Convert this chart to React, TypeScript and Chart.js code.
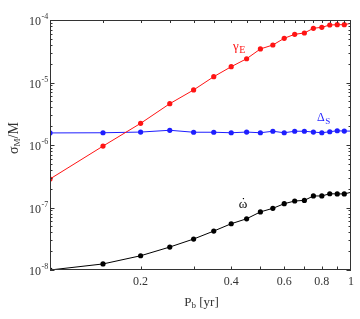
import React, { useEffect, useRef } from "react";
import { Chart, registerables } from "chart.js";
Chart.register(...registerables);

// orbital period P_b [yr]
const periods = [0.1, 0.15, 0.2, 0.25, 0.3, 0.35, 0.4, 0.45, 0.5, 0.55, 0.6, 0.65, 0.7, 0.75, 0.8, 0.85, 0.9, 0.95, 1.0];
// sigma_M / M for each parameter
const gammaE = [2.86e-7, 9.6e-7, 2.22e-6, 4.58e-6, 7.6e-6, 1.24e-5, 1.79e-5, 2.4e-5, 3.44e-5, 3.98e-5, 5.1e-5, 5.9e-5, 6.2e-5, 7.37e-5, 7.64e-5, 8.32e-5, 8.41e-5, 8.41e-5, 8.85e-5];
const deltaS = [1.56e-6, 1.57e-6, 1.61e-6, 1.72e-6, 1.6e-6, 1.6e-6, 1.57e-6, 1.61e-6, 1.57e-6, 1.66e-6, 1.57e-6, 1.66e-6, 1.66e-6, 1.61e-6, 1.57e-6, 1.63e-6, 1.69e-6, 1.67e-6, 1.67e-6];
const omegaDot = [1.0e-8, 1.25e-8, 1.69e-8, 2.33e-8, 3.13e-8, 4.2e-8, 5.5e-8, 6.6e-8, 8.5e-8, 9.7e-8, 1.15e-7, 1.27e-7, 1.3e-7, 1.53e-7, 1.53e-7, 1.66e-7, 1.65e-7, 1.65e-7, 1.75e-7];

// axis ticks
const xTickLabels = [0.2, 0.4, 0.6, 0.8, 1];
const xBottomTicks = [0.2, 0.3, 0.4, 0.5, 0.6, 0.7, 0.8, 0.9];
const xTopTicks = [0.15, 0.2, 0.25, 0.3, 0.35, 0.4, 0.45, 0.5, 0.55, 0.6, 0.65, 0.7, 0.75, 0.8, 0.85, 0.9, 0.95];
const yTickExponents = [-8, -7, -6, -5, -4];
const yMinorMultipliers = [2, 3, 4, 5, 6, 7, 8, 9];

const RED = "rgb(255,20,20)";
const BLUE = "rgb(30,30,255)";
const BLACK = "#000";
const AXIS = "#333";
const SERIF = "'Liberation Serif', 'DejaVu Serif', serif";

export default function App() {
  const ref = useRef<HTMLCanvasElement>(null);

  useEffect(() => {
    if (!ref.current) return;
    const pts = (ys: number[]) => periods.map((x, i) => ({ x, y: ys[i] }));
    const radius = (ctx: any) => (ctx.dataIndex === periods.length - 1 ? 0 : 2.6);

    const decor = {
      id: "decor",
      afterDraw(chart: any) {
        const { ctx, chartArea } = chart;
        const xs = chart.scales.x;
        const ys = chart.scales.y;
        const L = chartArea.left, R = chartArea.right, T = chartArea.top, B = chartArea.bottom;
        ctx.save();
        ctx.strokeStyle = AXIS;
        ctx.lineWidth = 1;
        // frame
        ctx.strokeRect(L + 0.5, T + 0.5, R - L - 1, B - T - 1);
        ctx.beginPath();
        // y ticks
        yTickExponents.forEach((e) => {
          const y = Math.round(ys.getPixelForValue(Math.pow(10, e))) + 0.5;
          ctx.moveTo(L, y); ctx.lineTo(L + 4.5, y);
          ctx.moveTo(R, y); ctx.lineTo(R - 4.5, y);
          if (e < -4) {
            yMinorMultipliers.forEach((k) => {
              const ym = Math.round(ys.getPixelForValue(k * Math.pow(10, e))) + 0.5;
              ctx.moveTo(L, ym); ctx.lineTo(L + 2.5, ym);
              ctx.moveTo(R, ym); ctx.lineTo(R - 2.5, ym);
            });
          }
        });
        xBottomTicks.forEach((v) => {
          const x = Math.round(xs.getPixelForValue(v)) + 0.5;
          ctx.moveTo(x, B); ctx.lineTo(x, B - 3.5);
        });
        xTopTicks.forEach((v) => {
          const x = Math.round(xs.getPixelForValue(v)) + 0.5;
          ctx.moveTo(x, T); ctx.lineTo(x, T + 3);
        });
        ctx.stroke();

        // x tick labels
        ctx.fillStyle = AXIS;
        ctx.font = `12px ${SERIF}`;
        ctx.textAlign = "center";
        ctx.textBaseline = "alphabetic";
        xTickLabels.forEach((v) => {
          ctx.fillText(String(v), xs.getPixelForValue(v), B + 15);
        });

        // y tick labels 10^e
        yTickExponents.forEach((e) => {
          const y = ys.getPixelForValue(Math.pow(10, e));
          ctx.font = `12px ${SERIF}`;
          ctx.textAlign = "right";
          ctx.fillText("10", 41, y + 5);
          ctx.font = `8px ${SERIF}`;
          ctx.textAlign = "left";
          ctx.fillText(String(e), 41.5, y - 1);
        });

        // x title P_b [yr]
        ctx.textAlign = "left";
        ctx.font = `13px ${SERIF}`;
        const wP = ctx.measureText("P").width;
        const wRest = ctx.measureText(" [yr]").width;
        ctx.font = `9px ${SERIF}`;
        const wb = ctx.measureText("b").width;
        let x0 = (L + R) / 2 + 1 - (wP + wb + wRest) / 2;
        ctx.font = `13px ${SERIF}`;
        ctx.fillText("P", x0, 306);
        ctx.font = `9px ${SERIF}`;
        ctx.fillText("b", x0 + wP, 308);
        ctx.font = `13px ${SERIF}`;
        ctx.fillText(" [yr]", x0 + wP + wb, 306);

        // y title sigma_M / M
        ctx.save();
        ctx.translate(18, 138);
        ctx.rotate(-Math.PI / 2);
        ctx.font = `14px ${SERIF}`;
        const ws = ctx.measureText("σ").width;
        const wSl = ctx.measureText("/M").width;
        ctx.font = `9px ${SERIF}`;
        const wM = ctx.measureText("M").width;
        let s0 = -(ws + wM + wSl) / 2;
        ctx.font = `14px ${SERIF}`;
        ctx.fillText("σ", s0, 0);
        ctx.font = `9px ${SERIF}`;
        ctx.fillText("M", s0 + ws, 2);
        ctx.font = `14px ${SERIF}`;
        ctx.fillText("/M", s0 + ws + wM, 0);
        ctx.restore();

        // series labels
        ctx.fillStyle = RED;
        ctx.font = `13px ${SERIF}`;
        ctx.fillText("γ", 233, 50);
        const wg = ctx.measureText("γ").width;
        ctx.font = `10px ${SERIF}`;
        ctx.fillText("E", 233 + wg + 0.5, 52.5);

        ctx.fillStyle = BLUE;
        ctx.font = `12px ${SERIF}`;
        ctx.fillText("Δ", 317, 121);
        const wd = ctx.measureText("Δ").width;
        ctx.font = `9px ${SERIF}`;
        ctx.fillText("S", 317 + wd + 0.5, 124);

        ctx.fillStyle = BLACK;
        ctx.font = `13px ${SERIF}`;
        ctx.textAlign = "center";
        ctx.fillText("ω", 243, 208);
        ctx.fillText("˙", 243.5, 206);
        ctx.restore();
      },
    };

    const chart = new Chart(ref.current, {
      type: "line",
      data: {
        datasets: [
          { label: "γE", data: pts(gammaE), borderColor: RED, backgroundColor: RED, pointBackgroundColor: RED, borderWidth: 1, pointRadius: radius, pointBorderWidth: 0, tension: 0 },
          { label: "ΔS", data: pts(deltaS), borderColor: BLUE, backgroundColor: BLUE, pointBackgroundColor: BLUE, borderWidth: 1, pointRadius: radius, pointBorderWidth: 0, tension: 0 },
          { label: "ω̇", data: pts(omegaDot), borderColor: BLACK, backgroundColor: BLACK, pointBackgroundColor: BLACK, borderWidth: 1, pointRadius: radius, pointBorderWidth: 0, tension: 0 },
        ],
      },
      options: {
        responsive: false,
        animation: false,
        events: [],
        layout: { padding: { left: 50, right: 9, top: 20, bottom: 49 } },
        plugins: { legend: { display: false }, tooltip: { enabled: false } },
        scales: {
          x: { type: "logarithmic", min: 0.1, max: 1, display: false },
          y: { type: "logarithmic", min: 1e-8, max: 1e-4, display: false },
        },
      },
      plugins: [decor],
    });
    return () => chart.destroy();
  }, []);

  return (
    <div style={{ position: "fixed", left: 0, top: 0, width: 360, height: 319, background: "#fff" }}>
      <canvas ref={ref} width={360} height={319} style={{ display: "block" }} />
    </div>
  );
}
